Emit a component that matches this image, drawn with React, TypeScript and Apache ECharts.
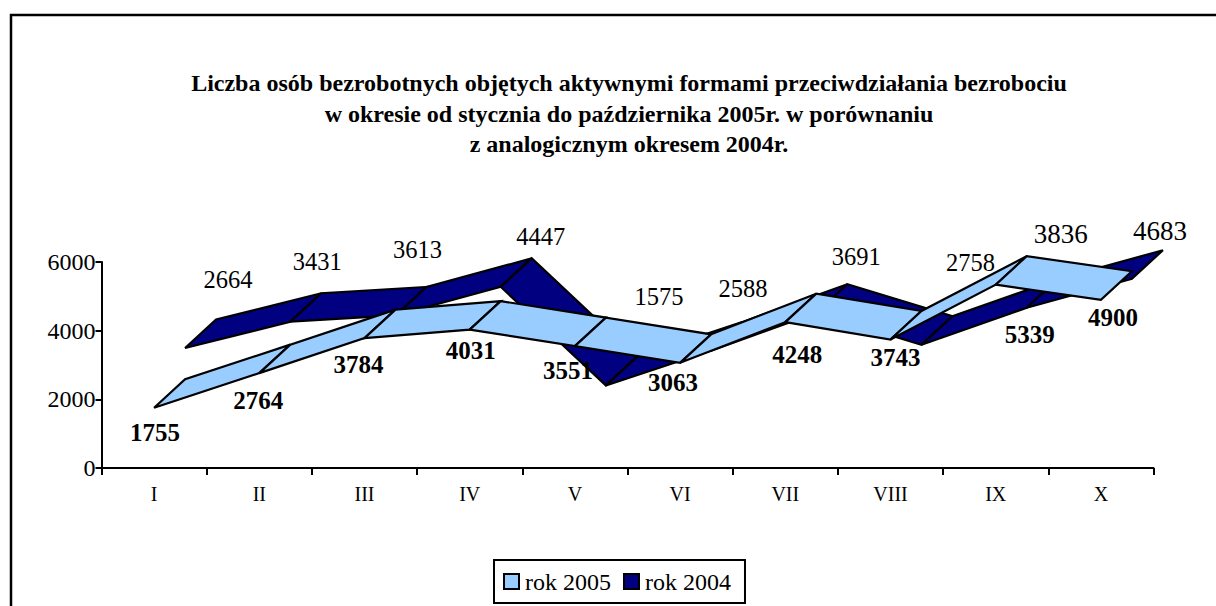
import React, { useEffect, useRef } from "react";
import * as echarts from "echarts";

const categories = ["I", "II", "III", "IV", "V", "VI", "VII", "VIII", "IX", "X"];
const values2005 = [1755, 2764, 3784, 4031, 3551, 3063, 4248, 3743, 5339, 4900];
const values2004 = [2664, 3431, 3613, 4447, 1575, 2588, 3691, 2758, 3836, 4683];
const yTicks = { min: 0, max: 6000, interval: 2000 };
const titleText =
  "Liczba osób bezrobotnych objętych aktywnymi formami przeciwdziałania bezrobociu\n" +
  "w okresie od stycznia do października 2005r. w porównaniu\n" +
  "z analogicznym okresem 2004r.";

// label placement relative to each value's point (pixels)
const labelDx2005 = [1, -1, -6, 1, -7, -7, 12, 5, 34, 12];
const labelDy2005 = [25, 27, 26, 21, 24, 20, 32, 18, 50, 18];
const labelDx2004 = [74, 58, 53, 71, 84, 63, 71, 80, 65, 59];
const labelDy2004 = [-97, -89, -94, -79, -117, -91, -85, -111, -102, -76];
const labelSize2005 = [25, 25, 25, 25, 25, 25, 25, 25, 25, 25];
const labelSize2004 = [24.5, 24.5, 24.5, 24.5, 24.5, 24.5, 24.5, 24.5, 27, 27];

const FONT = '"Liberation Serif", "Times New Roman", serif';
const DEPTH_X = 31;
const DEPTH_Y = -28.5;

function ribbon(name: string, values: number[], color: string, row: number, z: number) {
  return {
    type: "custom",
    name,
    z,
    animation: false,
    silent: true,
    clip: false,
    itemStyle: { color },
    encode: { x: 0, y: 1 },
    data: values.map((v, i) => [i, v]),
    renderItem: (params: any, api: any) => {
      const i = params.dataIndex;
      if (i >= values.length - 1) return { type: "group", children: [] };
      const a = api.coord([i, values[i]]);
      const b = api.coord([i + 1, values[i + 1]]);
      const ox = DEPTH_X * row;
      const oy = DEPTH_Y * row;
      return {
        type: "polygon",
        shape: {
          points: [
            [a[0] + ox, a[1] + oy],
            [b[0] + ox, b[1] + oy],
            [b[0] + ox + DEPTH_X, b[1] + oy + DEPTH_Y],
            [a[0] + ox + DEPTH_X, a[1] + oy + DEPTH_Y],
          ],
        },
        style: { fill: color, stroke: "#000", lineWidth: 2.2, lineJoin: "miter" },
      };
    },
  };
}

function labels(id: string, values: number[], dx: number[], dy: number[], sizes: number[], weight: string) {
  return {
    type: "custom",
    id,
    z: 20,
    silent: true,
    clip: false,
    encode: { x: 0, y: 1 },
    data: values.map((v, i) => [i, v]),
    renderItem: (params: any, api: any) => {
      const i = params.dataIndex;
      const p = api.coord([i, values[i]]);
      return {
        type: "text",
        style: {
          x: p[0] + dx[i],
          y: p[1] + dy[i],
          text: String(values[i]),
          align: "center",
          verticalAlign: "middle",
          font: `${weight} ${sizes[i]}px ${FONT}`,
          fill: "#000",
        },
      };
    },
  };
}

export default function App() {
  const ref = useRef<HTMLDivElement>(null);
  useEffect(() => {
    document.body.style.margin = "0";
    const chart = echarts.init(ref.current!, null, { renderer: "svg" });
    chart.setOption({
      animation: false,
      backgroundColor: "#fff",
      textStyle: { fontFamily: FONT },
      title: {
        text: titleText,
        left: 629,
        top: 68,
        textAlign: "center",
        padding: 0,
        textStyle: {
          fontFamily: FONT,
          fontSize: 24,
          fontWeight: "bold",
          color: "#000",
          lineHeight: 30.5,
        },
      },
      graphic: [
        {
          type: "rect",
          z: 0,
          shape: { x: 11, y: 15, width: 1300, height: 700 },
          style: { fill: "none", stroke: "#000", lineWidth: 2.5 },
        },
      ],
      legend: {
        left: 494,
        top: 560,
        orient: "horizontal",
        data: [
          { name: "rok 2005", icon: "rect" },
          { name: "rok 2004", icon: "rect" },
        ],
        backgroundColor: "#fff",
        borderColor: "#000",
        borderWidth: 2,
        padding: [9.5, 14, 9.5, 9],
        itemWidth: 15,
        itemHeight: 15,
        itemGap: 12,
        selectedMode: false,
        itemStyle: { borderColor: "#000", borderWidth: 2 },
        textStyle: { fontFamily: FONT, fontSize: 24, color: "#000", padding: [0, 0, 0, 1] },
      },
      grid: { left: 101.5, top: 262, width: 1052, height: 206, containLabel: false },
      xAxis: {
        type: "category",
        data: categories,
        boundaryGap: true,
        axisLine: { lineStyle: { color: "#000", width: 2 } },
        axisTick: { show: true, length: 7, alignWithLabel: false, lineStyle: { color: "#000", width: 2 } },
        axisLabel: { color: "#000", fontFamily: FONT, fontSize: 20, margin: 16 },
        splitLine: { show: false },
      },
      yAxis: {
        type: "value",
        min: yTicks.min,
        max: yTicks.max,
        interval: yTicks.interval,
        axisLine: { show: true, lineStyle: { color: "#000", width: 2 } },
        axisTick: { show: true, length: 6, lineStyle: { color: "#000", width: 2 } },
        axisLabel: { color: "#000", fontFamily: FONT, fontSize: 24, margin: 6, formatter: (v: number) => String(v) },
        splitLine: { show: false },
      },
      series: [
        ribbon("rok 2004", values2004, "#000080", 1, 5),
        ribbon("rok 2005", values2005, "#99CCFF", 0, 6),
        labels("labels2004", values2004, labelDx2004, labelDy2004, labelSize2004, "normal"),
        labels("labels2005", values2005, labelDx2005, labelDy2005, labelSize2005, "bold"),
      ],
    });
    return () => chart.dispose();
  }, []);
  return <div ref={ref} style={{ width: 1216, height: 606 }} />;
}
